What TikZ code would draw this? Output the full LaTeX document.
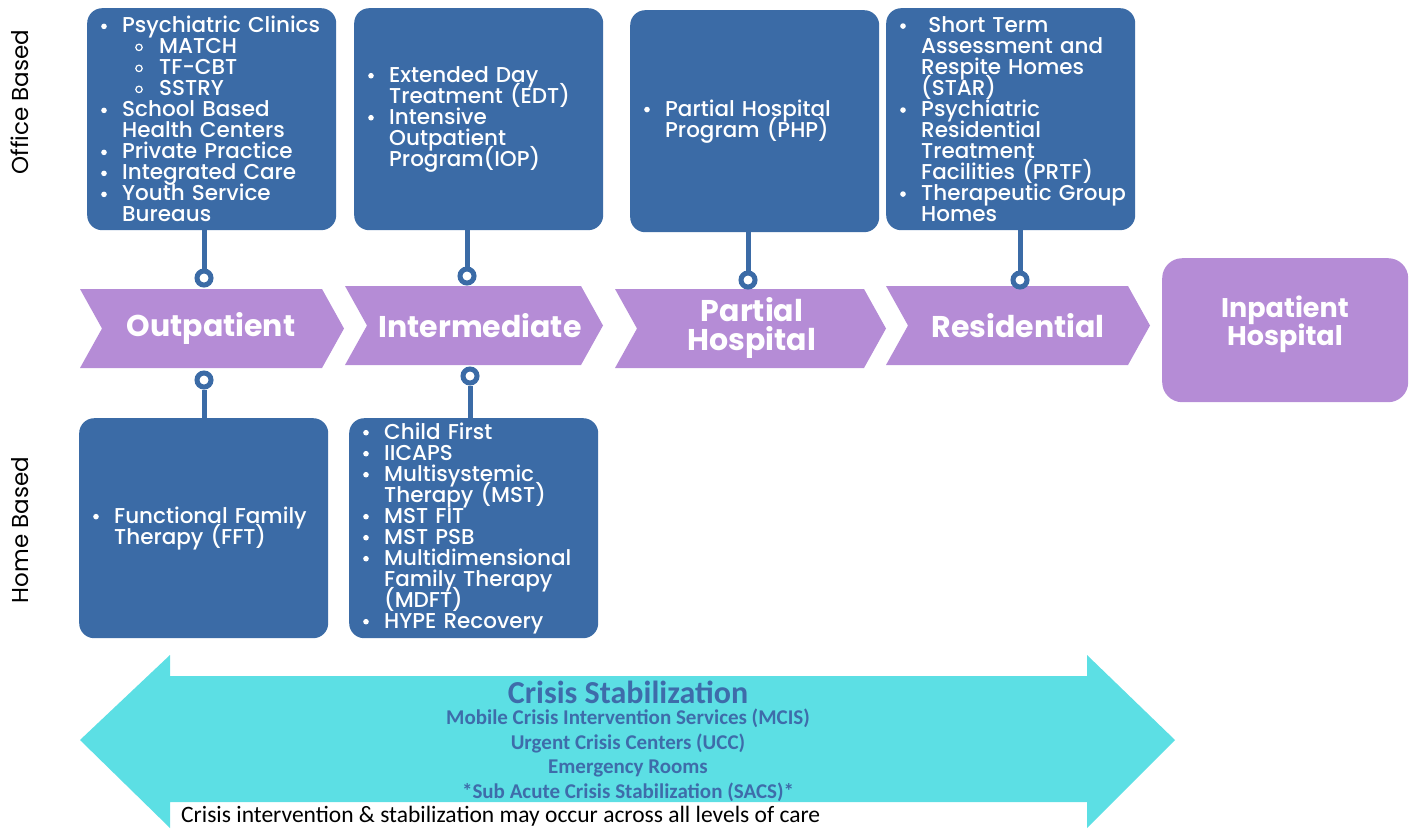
\documentclass[tikz,border=0pt]{standalone}
\usepackage{fontspec}
\setmainfont{Poppins}
\newfontfamily\medfont{Poppins Medium}
\newfontfamily\crisisfont{Carlito}
\usetikzlibrary{positioning,calc}
\definecolor{boxblue}{RGB}{59,107,166}
\definecolor{lav}{RGB}{181,140,214}
\definecolor{aqua}{RGB}{92,223,228}
\definecolor{crisisblue}{RGB}{62,108,170}
\newcommand{\tight}{\setlength{\lineskiplimit}{-50pt}}
\newcommand{\bul}{\hspace*{9pt}\makebox[22pt][l]{\hspace*{1pt}\tikz[baseline=-6.5pt]\fill[white] (0pt,0pt) circle (2.8pt);}}
\newcommand{\ind}{\hspace*{31pt}}
\newcommand{\sbul}{\hspace*{44pt}\makebox[24pt][l]{\tikz[baseline=-6.5pt]\draw[white,line width=1.2pt] (0pt,0pt) circle (3.2pt);}}
\newcommand{\chevron}[4]{\fill[lav] (#1,#3) -- (#2-22,#3) -- (#2,{(#3+#4)/2}) -- (#2-22,#4) -- (#1,#4) -- (#1+22,{(#3+#4)/2}) -- cycle;}

\begin{document}
\begin{tikzpicture}[x=1pt,y=-1pt,
  svc/.style={fill=boxblue,rounded corners=15pt,anchor=north west,minimum width=249pt,
    text width=241pt,inner xsep=4pt,inner ysep=0pt,align=left,text=white,
    font=\medfont\fontsize{21.5}{21}\selectfont\tight},
  ring/.style={circle,draw=boxblue,line width=5pt,fill=white,minimum size=14pt,inner sep=0pt},
  link/.style={draw=boxblue,line width=5pt},
  lvl/.style={text=white,align=center,font=\bfseries\fontsize{30}{29}\selectfont\tight},
  side/.style={rotate=90,font=\fontsize{23}{26}\selectfont},
  crisis/.style={text=crisisblue,font=\crisisfont\bfseries\fontsize{21}{24}\selectfont}]
\useasboundingbox (0,0) rectangle (1409,836);

% office based
\node[svc,minimum height=222pt] (b1) at (87,8) {\bul Psychiatric Clinics\\ \sbul MATCH\\ \sbul TF-CBT\\ \sbul SSTRY\\
  \bul School Based\\ \ind Health Centers\\ \bul Private Practice\\ \bul Integrated Care\\ \bul Youth Service\\ \ind Bureaus};
\node[svc,minimum height=222pt] (b2) at (354,8) {\bul Extended Day\\ \ind Treatment (EDT)\\ \bul Intensive\\ \ind Outpatient\\ \ind Program(IOP)};
\node[svc,minimum height=222pt] (b3) at (630,10) {\bul Partial Hospital\\ \ind Program (PHP)};
\node[svc,minimum height=222pt] (b4) at (886,8) {\bul\ Short Term\\ \ind Assessment and\\ \ind Respite Homes\\ \ind (STAR)\\
  \bul Psychiatric\\ \ind Residential\\ \ind Treatment\\ \ind Facilities (PRTF)\\ \bul Therapeutic Group\\ \ind Homes};

% levels of care
\chevron{80}{344}{289}{368}
\chevron{345}{603}{286}{365}
\chevron{615}{886}{289}{368}
\chevron{886}{1150}{286}{365}
\node[lvl] (lo) at (211,328) {Outpatient};
\node[lvl] (li) at (480,326) {Intermediate};
\node[lvl] (lp) at (752,328) {Partial\\Hospital};
\node[lvl] (lr) at (1018,326) {Residential};
\node[fill=lav,rounded corners=20pt,anchor=north west,minimum width=246pt,minimum height=144pt] (ih) at (1162,258) {};
\node[lvl,font=\bfseries\fontsize{27}{28}\selectfont\tight] (iht) at (1285,324) {Inpatient\\Hospital};

% home based
\node[svc,minimum height=220pt] (h1) at (79,418) {\bul Functional Family\\ \ind Therapy (FFT)};
\node[svc,minimum height=220pt] (h2) at (349,418) {\bul Child First\\ \bul IICAPS\\ \bul Multisystemic\\ \ind Therapy (MST)\\ \bul MST FIT\\
  \bul MST PSB\\ \bul Multidimensional\\ \ind Family Therapy\\ \ind (MDFT)\\ \bul HYPE Recovery};

% connectors
\node[ring] (k1) at (204,278) {};
\node[ring] (k2) at (467,276) {};
\node[ring] (k3) at (748,280) {};
\node[ring] (k4) at (1020,280) {};
\node[ring] (k5) at (204,380) {};
\node[ring] (k6) at (470,376) {};
\draw[link] (k1.north) -- (k1 |- b1.south);
\draw[link] (k2.north) -- (k2 |- b2.south);
\draw[link] (k3.north) -- (k3 |- b3.south);
\draw[link] (k4.north) -- (k4 |- b4.south);
\draw[link] (k5.south) -- (k5 |- h1.north);
\draw[link] (k6.south) -- (k6 |- h2.north);

\node[side] (ob) at (20,102) {Office Based};
\node[side] (hb) at (20,530) {Home Based};

% crisis arrow
\fill[aqua] (80,740) -- (170,655) -- (170,676) -- (1087,676) -- (1087,655) -- (1175,740)
  -- (1087,828) -- (1087,802) -- (170,802) -- (170,828) -- cycle;
\node[crisis,font=\crisisfont\bfseries\fontsize{32}{34}\selectfont] (cs) at (628,692) {Crisis Stabilization};
\node[crisis] (c1) at (628,718) {Mobile Crisis Intervention Services (MCIS)};
\node[crisis] (c2) at (628,743) {Urgent Crisis Centers (UCC)};
\node[crisis] (c3) at (628,768) {Emergency Rooms};
\node[crisis] (c4) at (628,792) {*Sub Acute Crisis Stabilization (SACS)*};
\node[anchor=west,inner sep=0pt,font=\crisisfont\fontsize{23.5}{26}\selectfont] (cn) at (181,816) {Crisis intervention \& stabilization may occur across all levels of care};
\end{tikzpicture}
\end{document}
